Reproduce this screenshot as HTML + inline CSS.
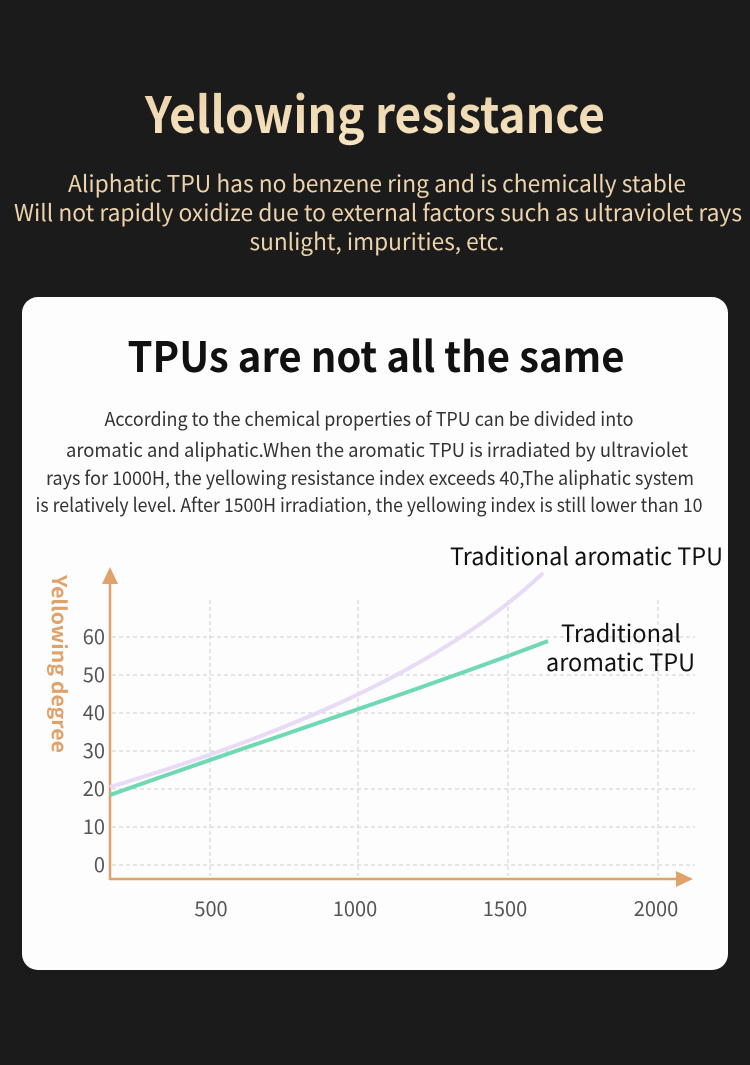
<!DOCTYPE html>
<html><head><meta charset="utf-8"><style>
html,body{margin:0;padding:0;background:#1b1b1b;}
svg{display:block}
</style></head><body>
<svg width="750" height="1065" viewBox="0 0 750 1065" xmlns="http://www.w3.org/2000/svg" font-family="'Noto Sans CJK SC','Liberation Sans',sans-serif">
<defs>
<linearGradient id="g" x1="0" x2="0" y1="0" y2="1"><stop offset="0" stop-color="#e9cfa6"/><stop offset="1" stop-color="#f7e6c4"/></linearGradient>
</defs>
<rect width="750" height="1065" fill="#1b1b1b"/>
<text x="375" y="133" text-anchor="middle" font-size="50" font-weight="bold" fill="url(#g)" textLength="460" lengthAdjust="spacingAndGlyphs">Yellowing resistance</text>
<g fill="#ecd3ab" font-size="23" text-anchor="middle">
<text x="377" y="192" textLength="618" lengthAdjust="spacingAndGlyphs">Aliphatic TPU has no benzene ring and is chemically stable</text>
<text x="378" y="221" textLength="728" lengthAdjust="spacingAndGlyphs">Will not rapidly oxidize due to external factors such as ultraviolet rays</text>
<text x="377" y="250" textLength="255" lengthAdjust="spacingAndGlyphs">sunlight, impurities, etc.</text>
</g>
<rect x="22" y="297" width="706" height="673" rx="16" fill="#fdfdfd"/>
<text x="376" y="372" text-anchor="middle" font-size="42" font-weight="bold" fill="#111" textLength="497" lengthAdjust="spacingAndGlyphs">TPUs are not all the same</text>
<g fill="#333" font-size="19" text-anchor="middle">
<text x="369" y="426" textLength="529" lengthAdjust="spacingAndGlyphs">According to the chemical properties of TPU can be divided into</text>
<text x="377" y="457" textLength="622" lengthAdjust="spacingAndGlyphs">aromatic and aliphatic.When the aromatic TPU is irradiated by ultraviolet</text>
<text x="370" y="485" textLength="648" lengthAdjust="spacingAndGlyphs">rays for 1000H, the yellowing resistance index exceeds 40,The aliphatic system</text>
<text x="369" y="512" textLength="667" lengthAdjust="spacingAndGlyphs">is relatively level. After 1500H irradiation, the yellowing index is still lower than 10</text>
</g>
<g stroke="#d0d0d0" stroke-width="1" stroke-dasharray="4,3" fill="none">
<line x1="112" x2="695" y1="865" y2="865"/>
<line x1="112" x2="695" y1="827" y2="827"/>
<line x1="112" x2="695" y1="789" y2="789"/>
<line x1="112" x2="695" y1="751" y2="751"/>
<line x1="112" x2="695" y1="713" y2="713"/>
<line x1="112" x2="695" y1="675" y2="675"/>
<line x1="112" x2="695" y1="637" y2="637"/>
<line x1="210" x2="210" y1="600" y2="876"/>
<line x1="358" x2="358" y1="600" y2="876"/>
<line x1="508" x2="508" y1="600" y2="876"/>
<line x1="658" x2="658" y1="600" y2="876"/>
</g>
<g stroke="#e0a26a" stroke-width="2.5" fill="none">
<line x1="110" y1="880" x2="110" y2="580"/>
<line x1="109" y1="879" x2="680" y2="879"/>
</g>
<polygon points="110,567 102,584 118,584" fill="#e0a26a"/>
<polygon points="693,879 676,871 676,887" fill="#e0a26a"/>
<path d="M110,787 C250,745 430,680 543,573" stroke="#e8dbf5" stroke-width="4" fill="none"/>
<path d="M110,795 C250,745 420,690 548,641" stroke="#6fd9b3" stroke-width="4" fill="none"/>
<g fill="#555" font-size="20" text-anchor="end">
<text x="105" y="872">0</text>
<text x="105" y="834">10</text>
<text x="105" y="796">20</text>
<text x="105" y="758">30</text>
<text x="105" y="720">40</text>
<text x="105" y="682">50</text>
<text x="105" y="644">60</text>
</g>
<g fill="#555" font-size="20" text-anchor="middle">
<text x="211" y="916">500</text>
<text x="355" y="916">1000</text>
<text x="505" y="916">1500</text>
<text x="656" y="916">2000</text>
</g>
<text transform="translate(52,575) rotate(90)" font-size="20" font-weight="bold" fill="#e0a26a" textLength="178" lengthAdjust="spacingAndGlyphs">Yellowing degree</text>
<g fill="#111" font-size="24">
<text x="450" y="565" textLength="273" lengthAdjust="spacingAndGlyphs">Traditional aromatic TPU</text>
<text x="561" y="642" textLength="120" lengthAdjust="spacingAndGlyphs">Traditional</text>
<text x="546" y="671" textLength="149" lengthAdjust="spacingAndGlyphs">aromatic TPU</text>
</g>
</svg>
</body></html>
